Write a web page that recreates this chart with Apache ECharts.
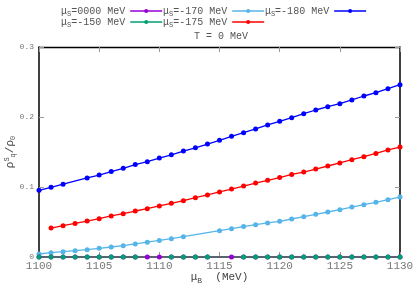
<!DOCTYPE html>
<html><head><meta charset="utf-8">
<script src="https://cdn.jsdelivr.net/npm/echarts@6/dist/echarts.min.js"></script>
<style>html,body{margin:0;padding:0;background:#fff}#c{width:415px;height:291px}</style>
</head><body><div id="c"></div>
<script>
// Data (μB in MeV, ρ^S_q/ρ0)
const xTicks = [1100, 1105, 1110, 1115, 1120, 1125, 1130];
const yTicks = [0, 0.1, 0.2, 0.3];

const mu0000_x = [1100,1101,1102,1103,1104,1105,1106,1107,1108,1109,1110,1111,1112,1113,1114,1116,1117,1118,1119,1120,1121,1122,1123,1124,1125,1126,1127,1128,1129,1130];
const mu0000_y = [0,0,0,0,0,0,0,0,0,0,0,0,0,0,0,0,0,0,0,0,0,0,0,0,0,0,0,0,0,0];

const mu150_x = [1100,1101,1102,1103,1104,1105,1106,1107,1108,1111,1112,1113,1114,1117,1118,1119,1120,1121,1122,1123,1124,1125,1126,1127,1128,1129,1130];
const mu150_y = [0,0,0,0,0,0,0,0,0,0,0,0,0,0,0,0,0,0,0,0,0,0,0,0,0,0,0];

const mu170_x = [1100,1101,1102,1103,1104,1105,1106,1107,1108,1109,1110,1111,1112,1115,1116,1117,1118,1119,1120,1121,1122,1123,1124,1125,1126,1127,1128,1129,1130];
const mu170_y = [0.0043,0.0062,0.0076,0.0090,0.0105,0.0124,0.0143,0.0162,0.0186,0.0212,0.0236,0.0262,0.0290,0.0376,0.0405,0.0435,0.0462,0.0487,0.0510,0.0543,0.0576,0.0610,0.0643,0.0676,0.0714,0.0748,0.0781,0.0819,0.0857];

const mu175_x = [1101,1102,1103,1104,1105,1106,1107,1108,1109,1110,1111,1112,1113,1114,1115,1116,1117,1118,1119,1120,1121,1122,1123,1124,1125,1126,1127,1128,1129,1130];
const mu175_y = [0.0414,0.0448,0.0480,0.0514,0.0548,0.0586,0.0619,0.0657,0.0690,0.0729,0.0767,0.0805,0.0848,0.0886,0.0929,0.0971,0.1014,0.1057,0.1095,0.1135,0.1180,0.1214,0.1257,0.1300,0.1343,0.1390,0.1433,0.1480,0.1529,0.1570];

const mu180_x = [1100,1101,1102,1104,1105,1106,1107,1108,1109,1110,1111,1112,1113,1114,1115,1116,1117,1118,1119,1120,1121,1122,1123,1124,1125,1126,1127,1128,1129,1130];
const mu180_y = [0.0953,0.0996,0.1040,0.1130,0.1170,0.1220,0.1267,0.1320,0.1361,0.1414,0.1460,0.1514,0.1560,0.1614,0.1667,0.1724,0.1776,0.1829,0.1886,0.1938,0.1990,0.2048,0.2100,0.2147,0.2190,0.2243,0.2300,0.2347,0.2404,0.2461];

const names = ['mu0000','mu150','mu170','mu175','mu180'];
const labels = {mu0000:'0000', mu150:'-150', mu170:'-170', mu175:'-175', mu180:'-180'};
const colors = {mu0000:'#9400d3', mu150:'#009e73', mu170:'#56b4e9', mu175:'#ff0000', mu180:'#0000ff'};

function pts(xs, ys){ return xs.map((x,i)=>[x, ys[i]]); }
const dataMap = {
  mu0000: pts(mu0000_x, mu0000_y),
  mu150: pts(mu150_x, mu150_y),
  mu170: pts(mu170_x, mu170_y),
  mu175: pts(mu175_x, mu175_y),
  mu180: pts(mu180_x, mu180_y)
};

const FONT = 'Liberation Mono';
const zeroLine = '#5c6370';

const series = names.map(n => {
  const isZero = (n === 'mu0000' || n === 'mu150');
  return {
    name: n, type: 'line', data: dataMap[n],
    symbol: 'circle', symbolSize: 5, showSymbol: true,
    color: colors[n],
    itemStyle: {color: colors[n]},
    lineStyle: {color: isZero ? zeroLine : colors[n], width: isZero ? 2 : 1.3},
    emphasis: {disabled: true}, animation: false, z: isZero ? 3 : 2
  };
});

const legendRich = {
  m: {fontFamily: FONT, fontSize: 10, color: '#555'},
  s: {fontFamily: FONT, fontSize: 7, color: '#555', verticalAlign: 'bottom', padding: [6,0,0,0]}
};
function legendFmt(n){ return '{m|μ}{s|S}{m|=' + labels[n] + ' MeV}'; }
function legendData(list){
  return list.map(n => ({name: n, lineStyle: {color: colors[n], width: 1.5}, itemStyle: {color: colors[n]}}));
}

const chart = echarts.init(document.getElementById('c'), null, {renderer: 'canvas'});
chart.setOption({
  animation: false,
  backgroundColor: '#fff',
  title: {text: 'T = 0 MeV', left: 189, top: 26,
    textStyle: {fontFamily: FONT, fontSize: 10, fontWeight: 'normal', color: '#555'}},
  legend: [
    {data: legendData(['mu0000','mu170','mu180']), left: 56, top: 1, align: 'right', itemWidth: 32, itemHeight: 5,
     itemGap: 0, formatter: legendFmt, textStyle: {rich: legendRich}, selectedMode: false},
    {data: legendData(['mu150','mu175']), left: 56, top: 12, align: 'right', itemWidth: 32, itemHeight: 5,
     itemGap: 0, formatter: legendFmt, textStyle: {rich: legendRich}, selectedMode: false}
  ],
  grid: {left: 39, right: 15, top: 47, bottom: 34, containLabel: false, outerBoundsMode: 'none'},
  xAxis: [
    {type: 'value', min: 1100, max: 1130, interval: 5, position: 'bottom',
     name: '{m|μ}{s|B}{m|  (MeV)}', nameLocation: 'middle', nameGap: 13, nameMoveOverlap: false,
     nameTextStyle: {rich: {m: {fontFamily: FONT, fontSize: 11, color: '#444'}, s: {fontFamily: FONT, fontSize: 8, color: '#444', verticalAlign: 'bottom', padding: [7,0,0,0]}}},
     axisLine: {show: true, onZero: false, lineStyle: {color: zeroLine, width: 2}},
     axisTick: {show: true, inside: true, length: 5, lineStyle: {color: '#999'}},
     axisLabel: {fontFamily: FONT, fontSize: 11, color: '#777', margin: 4,
       formatter: v => xTicks.includes(v) ? String(v) : ''},
     splitLine: {show: false}},
    {type: 'value', min: 1100, max: 1130, interval: 5, position: 'top',
     axisLine: {show: true, onZero: false, lineStyle: {color: '#000', width: 1.3}},
     axisTick: {show: true, inside: true, length: 5, lineStyle: {color: '#999'}},
     axisLabel: {show: false}, splitLine: {show: false}}
  ],
  yAxis: [
    {type: 'value', min: 0, max: 0.3, interval: 0.1, position: 'left',
     name: '{m|ρ}{s|S}{b|q}{m|/ρ}{b|0}', nameLocation: 'middle', nameGap: 22, nameRotate: 90, nameMoveOverlap: false,
     nameTextStyle: {rich: {
       m: {fontFamily: FONT, fontSize: 11, color: '#444'},
       s: {fontFamily: FONT, fontSize: 7, color: '#444', verticalAlign: 'top', padding: [0,0,6,0]},
       b: {fontFamily: FONT, fontSize: 7, color: '#444', verticalAlign: 'bottom', padding: [6,0,0,0]}}},
     axisLine: {show: true, onZero: false, lineStyle: {color: '#000', width: 1.5}},
     axisTick: {show: true, inside: true, length: 5, lineStyle: {color: '#999'}},
     axisLabel: {fontFamily: FONT, fontSize: 8, color: '#777', margin: 5,
       formatter: v => { const t = yTicks.find(k => Math.abs(k - v) < 1e-9); return t === undefined ? '' : String(t); }},
     splitLine: {show: false}},
    {type: 'value', min: 0, max: 0.3, interval: 0.1, position: 'right',
     axisLine: {show: true, onZero: false, lineStyle: {color: '#000', width: 1.5}},
     axisTick: {show: true, inside: true, length: 5, lineStyle: {color: '#999'}},
     axisLabel: {show: false}, splitLine: {show: false}}
  ],
  series: series
});
</script></body></html>
